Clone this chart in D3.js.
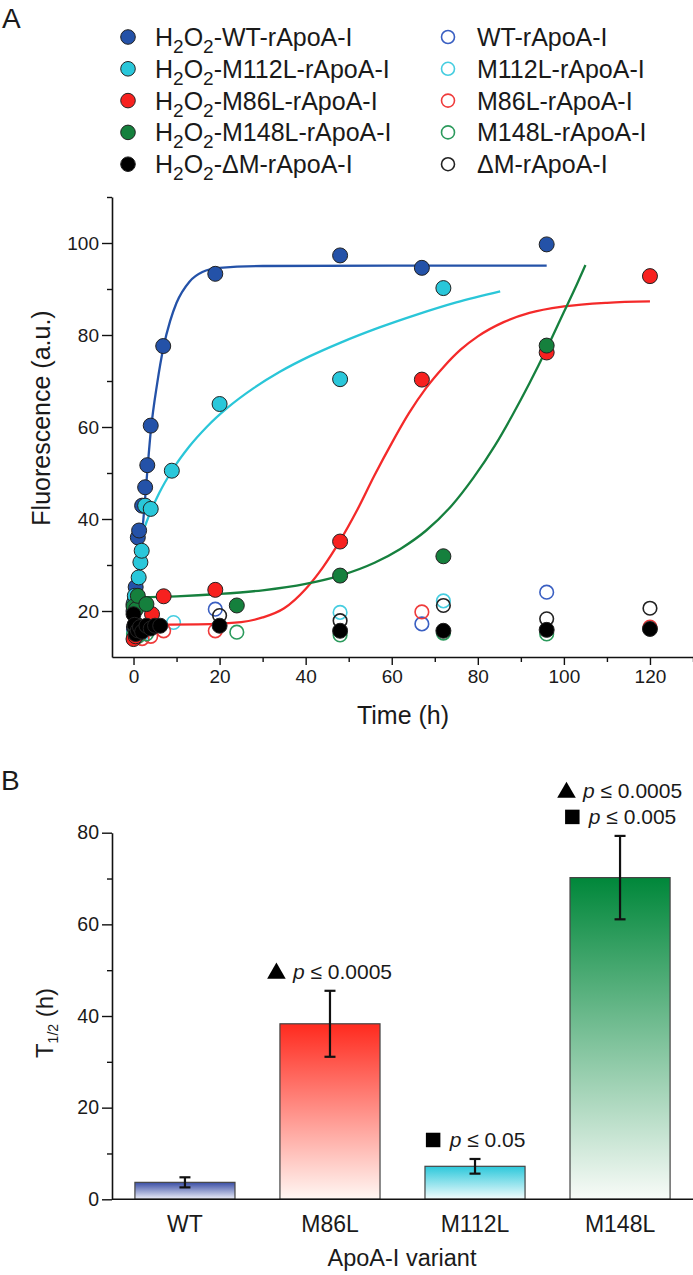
<!DOCTYPE html>
<html><head><meta charset="utf-8">
<script src="https://cdn.jsdelivr.net/npm/d3@7"></script>
<style>
html,body{margin:0;padding:0;background:#fff;}
svg{display:block;font-family:"Liberation Sans",Arial,Helvetica,sans-serif;}
</style></head>
<body>
<svg id="chart" width="693" height="1275"></svg>
<script>
// ---------- Panel A data (time h, fluorescence a.u.) ----------
const wtH2O2   = [[0,20],[0.25,22.2],[0.5,25.2],[1,36],[1.3,37.5],[2,42.9],[2.7,46.9],[3.2,51.7],[4,60.3],[6.9,77.6],[19,93.3],[48,97.3],[67,94.6],[96,99.7]];
const m112H2O2 = [[0,21.5],[0.3,23.3],[1.2,27.3],[1.6,30.6],[1.9,33.1],[2.7,42.9],[4,42.2],[8.9,50.5],[20,65],[48,70.4],[72,90.2]];
const m86H2O2  = [[0,13.9],[0.5,14.5],[1,15.2],[2,16],[4.3,19.3],[7,23.2],[19,24.6],[48,35.1],[67,70.3],[96,76.2],[120,92.8]];
const m148H2O2 = [[0,21],[0.6,20.4],[1,23.3],[3,21.5],[24,21.2],[48,27.7],[72,31.9],[96,77.7]];
const dmH2O2   = [[0,19.3],[0.25,17],[0.5,15],[1,15.8],[1.5,16.5],[2,15.5],[3,16.8],[4,16.2],[5,16.8],[6.2,16.8],[20,16.8],[48,15.7],[72,15.7],[96,15.9],[120,16.1]];

const wtNat   = [[0,16],[1,15.5],[19,20.4],[67,17.2],[96,24.1]];
const m112Nat = [[0,15],[2,15],[9.3,17.5],[48,19.7],[72,22.2]];
const m86Nat  = [[0,14],[1,14.5],[2,14],[4,14.5],[7,15.7],[19,15.7],[67,19.8],[120,16.5]];
const m148Nat = [[0,15],[1,14.5],[3,15],[24,15.4],[48,14.8],[72,15.2],[96,15]];
const dmNat   = [[0,16.5],[1,17],[2,16],[20,19],[48,17.9],[72,21.2],[96,18.3],[120,20.6]];

// fitted curves
const wtFit   = [[0,17],[1,28],[1.5,33],[2.3,40],[3,48],[4,59],[5.5,69.5],[7,77.5],[8.5,83],[10,87],[13,91.6],[16,93.7],[20,94.6],[30,95],[60,95.1],[96,95.1]];
const m112Fit = [[1.2,34.4],[2,36.7],[3,39.3],[4.3,42.3],[6,45.7],[9,50.6],[13,55.8],[17,60],[22,64.3],[28,68.5],[34,72],[41,75.4],[48,78.3],[57,81.6],[66,84.5],[75,87.1],[85.2,89.5]];
const m86Fit  = [[2,17],[15,17.1],[25,17.6],[30,18.6],[35,20.6],[40,24.8],[44,29.5],[48,35.3],[52,42],[56,49.5],[60,56.5],[64,63],[68,68.5],[72,73],[76,76.8],[80,79.7],[86,82.8],[92,84.8],[100,86.2],[110,87],[120,87.3]];
const m148Fit = [[1,23],[10,23.2],[20,23.7],[30,24.5],[40,25.9],[48,27.7],[56,30.5],[62,33.5],[68,37.5],[74,43],[79,49],[84,56],[88,62.5],[92,69.5],[96,77],[100,85],[103,91],[105,95.2]];

const legendFilled = ["WT","M112L","M86L","M148L","ΔM"];
const xTicksA = [0,20,40,60,80,100,120];
const yTicksA = [20,40,60,80,100];

// ---------- Panel B data ----------
const variants = ["WT","M86L","M112L","M148L"];
const halfLife = [3.7,38.3,7.2,70.2];
const halfLifeErr = [1.1,7.2,1.6,9.1];
const yTicksB = [0,20,40,60,80];
const annotations = [
  {variant:"M86L", lines:[{sym:"triangle", text:"0.0005"}]},
  {variant:"M112L", lines:[{sym:"square", text:"0.05"}]},
  {variant:"M148L", lines:[{sym:"triangle", text:"0.0005"},{sym:"square", text:"0.005"}]}
];

// ---------- styling ----------
const colors = {WT:"#2452a8", M112L:"#29c7da", M86L:"#f7211f", M148L:"#15803d", "ΔM":"#000000"};
const openColors = {WT:"#3a5fc2", M112L:"#45cde0", M86L:"#ef3b3b", M148L:"#2b9a5c", "ΔM":"#222222"};
const lineColors = {WT:"#2452a8", M112L:"#2ac6d8", M86L:"#f42a2a", M148L:"#16803e"};
const textColor = "#1a1a1a";

const svg = d3.select("#chart");
svg.append("rect").attr("width",693).attr("height",1275).attr("fill","#fff");

// ================= PANEL A =================
const xA = d3.scaleLinear().domain([-5,130]).range([112,693]);
const yA = d3.scaleLinear().domain([10,110]).range([657,197]);

svg.append("text").attr("x",2).attr("y",28).attr("font-size",28).attr("fill",textColor).text("A");

// legend
const legRowY = i => 37 + i*31.8;
legendFilled.forEach((name,i)=>{
  const y = legRowY(i);
  svg.append("circle").attr("cx",128).attr("cy",y).attr("r",7.3)
    .attr("fill",colors[name]).attr("stroke","#222").attr("stroke-width",1);
  const t = svg.append("text").attr("x",155).attr("y",y+9).attr("font-size",25).attr("fill",textColor);
  t.append("tspan").text("H");
  t.append("tspan").attr("font-size",19).attr("dy",7).text("2");
  t.append("tspan").attr("dy",-7).text("O");
  t.append("tspan").attr("font-size",19).attr("dy",7).text("2");
  t.append("tspan").attr("dy",-7).text("-" + name + "-rApoA-I");
  svg.append("circle").attr("cx",448).attr("cy",y).attr("r",6.5)
    .attr("fill","none").attr("stroke",openColors[name]).attr("stroke-width",1.6);
  svg.append("text").attr("x",477).attr("y",y+9).attr("font-size",25).attr("fill",textColor)
    .text(name + "-rApoA-I");
});

// axes A
const gxA = svg.append("g").attr("transform","translate(0,657)");
gxA.call(d3.axisBottom(xA).tickValues(xTicksA).tickSize(8).tickSizeOuter(0).tickPadding(5).tickFormat(d3.format("d")));
gxA.append("g").call(d3.axisBottom(xA).tickValues([10,30,50,70,90,110,130]).tickSize(5).tickFormat("")).select(".domain").remove();
const gyA = svg.append("g").attr("transform","translate(112,0)");
gyA.call(d3.axisLeft(yA).tickValues(yTicksA).tickSize(10).tickSizeOuter(0).tickPadding(3).tickFormat(d3.format("d")));
gyA.append("g").call(d3.axisLeft(yA).tickValues([30,50,70,90,110]).tickSize(5).tickFormat("")).select(".domain").remove();
[gxA,gyA].forEach(g=>{
  g.selectAll("path.domain").attr("stroke","#111").attr("stroke-width",1.6);
  g.selectAll(".tick line").attr("stroke","#111").attr("stroke-width",1.4);
  g.selectAll(".tick text").attr("font-size",19).attr("fill",textColor).attr("font-family","Liberation Sans, Arial, sans-serif");
});

svg.append("text").attr("x",403).attr("y",724).attr("text-anchor","middle").attr("font-size",25).attr("fill",textColor).text("Time (h)");
svg.append("text").attr("transform","translate(50,418) rotate(-90)").attr("text-anchor","middle").attr("font-size",25).attr("fill",textColor).text("Fluorescence (a.u.)");

// open circles
const openSeries = [["WT",wtNat],["M112L",m112Nat],["M86L",m86Nat],["M148L",m148Nat],["ΔM",dmNat]];
openSeries.forEach(([name,data])=>{
  svg.append("g").selectAll("circle").data(data).join("circle")
    .attr("cx",d=>xA(d[0])).attr("cy",d=>yA(d[1])).attr("r",6.8)
    .attr("fill","none").attr("stroke",openColors[name]).attr("stroke-width",1.6);
});

// fit curves
const lineGen = d3.line().x(d=>xA(d[0])).y(d=>yA(d[1])).curve(d3.curveMonotoneX);
[["WT",wtFit],["M112L",m112Fit],["M86L",m86Fit],["M148L",m148Fit]].forEach(([name,data])=>{
  svg.append("path").datum(data).attr("d",lineGen).attr("fill","none")
    .attr("stroke",lineColors[name]).attr("stroke-width",2.3);
});

// filled points
const filledSeries = [["WT",wtH2O2],["M112L",m112H2O2],["M86L",m86H2O2],["M148L",m148H2O2],["ΔM",dmH2O2]];
filledSeries.forEach(([name,data])=>{
  svg.append("g").selectAll("circle").data(data).join("circle")
    .attr("cx",d=>xA(d[0])).attr("cy",d=>yA(d[1])).attr("r",7.5)
    .attr("fill",colors[name]).attr("stroke","#222").attr("stroke-width",1);
});

// ================= PANEL B =================
svg.append("text").attr("x",1).attr("y",790).attr("font-size",28).attr("fill",textColor).text("B");

const xB = d3.scaleBand().domain(variants).range([112,693]).paddingInner(0.31).paddingOuter(0.158);
const yB = d3.scaleLinear().domain([0,80]).range([1199.3,832.7]);

const gradColors = {
  WT:["#3a4ea4","#eef0fa"],
  M86L:["#ff2a1e","#fff7f3"],
  M112L:["#2cc8db","#f3fcfd"],
  M148L:["#00873a","#f8fbf8"]
};
const defs = svg.append("defs");
variants.forEach(v=>{
  const g = defs.append("linearGradient").attr("id","grad-"+v).attr("x1",0).attr("y1",0).attr("x2",0).attr("y2",1);
  g.append("stop").attr("offset","0%").attr("stop-color",gradColors[v][0]);
  g.append("stop").attr("offset","100%").attr("stop-color",gradColors[v][1]);
});

svg.append("g").selectAll("rect").data(variants).join("rect")
  .attr("x",d=>xB(d)).attr("width",xB.bandwidth())
  .attr("y",(d,i)=>yB(halfLife[i])).attr("height",(d,i)=>yB(0)-yB(halfLife[i]))
  .attr("fill",d=>"url(#grad-"+d+")").attr("stroke","#444").attr("stroke-width",1.2);

// error bars
const eb = svg.append("g").attr("stroke","#111").attr("stroke-width",2.2);
variants.forEach((v,i)=>{
  const cx = xB(v)+xB.bandwidth()/2;
  const lo = yB(halfLife[i]-halfLifeErr[i]), hi = yB(halfLife[i]+halfLifeErr[i]);
  eb.append("line").attr("x1",cx).attr("x2",cx).attr("y1",lo).attr("y2",hi);
  eb.append("line").attr("x1",cx-5.5).attr("x2",cx+5.5).attr("y1",lo).attr("y2",lo);
  eb.append("line").attr("x1",cx-5.5).attr("x2",cx+5.5).attr("y1",hi).attr("y2",hi);
});

// axes B
const gyB = svg.append("g").attr("transform","translate(112,0)");
gyB.call(d3.axisLeft(yB).tickValues(yTicksB).tickSize(10).tickSizeOuter(0).tickPadding(3).tickFormat(d3.format("d")));
gyB.append("g").call(d3.axisLeft(yB).tickValues([10,30,50,70]).tickSize(5).tickFormat("")).select(".domain").remove();
const gxB = svg.append("g").attr("transform","translate(0,1199.3)");
gxB.call(d3.axisBottom(xB).tickSize(0).tickPadding(16));
[gxB,gyB].forEach(g=>{
  g.selectAll("path.domain").attr("stroke","#111").attr("stroke-width",1.6);
  g.selectAll(".tick line").attr("stroke","#111").attr("stroke-width",1.4);
  g.selectAll(".tick text").attr("fill",textColor).attr("font-family","Liberation Sans, Arial, sans-serif");
});
gyB.selectAll(".tick text").attr("font-size",19.5);
gxB.selectAll(".tick text").attr("font-size",23);
gxB.select("path.domain").attr("d","M112,0H693");

svg.append("text").attr("x",402).attr("y",1266).attr("text-anchor","middle").attr("font-size",23.5).attr("fill",textColor).text("ApoA-I variant");
const tLab = svg.append("text").attr("transform","translate(53,1023) rotate(-90)").attr("text-anchor","middle").attr("font-size",24).attr("fill",textColor);
tLab.append("tspan").text("T");
tLab.append("tspan").attr("font-size",14).attr("dy",5).text("1/2");
tLab.append("tspan").attr("dy",-5).text(" (h)");

// annotations
annotations.forEach(a=>{
  const i = variants.indexOf(a.variant);
  const cx = xB(a.variant)+xB.bandwidth()/2;
  const top = yB(halfLife[i]+halfLifeErr[i]);
  const n = a.lines.length;
  a.lines.forEach((ln,j)=>{
    const base = top - 11.5 - (n-1-j)*26;
    const g = svg.append("g");
    const t = g.append("text").attr("y",base).attr("font-size",21).attr("fill",textColor);
    t.append("tspan").attr("font-style","italic").text("p");
    t.append("tspan").text(" ≤ " + ln.text);
    const w = t.node().getComputedTextLength();
    const symW = 17, gap = 8;
    const total = symW + gap + w;
    const x0 = cx - total/2;
    t.attr("x", x0 + symW + gap);
    const sym = ln.sym==="triangle" ? d3.symbolTriangle : d3.symbolSquare;
    const size = ln.sym==="triangle" ? 150 : 210;
    g.append("path").attr("d",d3.symbol().type(sym).size(size)())
      .attr("transform",`translate(${x0+symW/2},${base-7.5 + (ln.sym==="triangle"?1.5:0)})`)
      .attr("fill","#000");
  });
});
</script>
</body></html>
